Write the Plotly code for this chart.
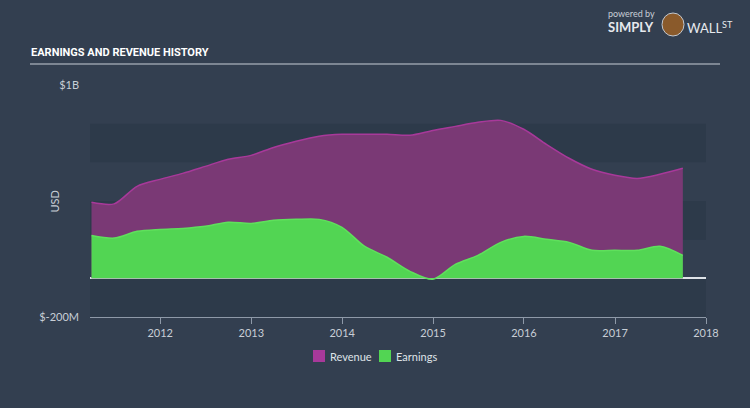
import plotly.graph_objects as go

dates = ["2011-03-31", "2011-06-30", "2011-09-30", "2011-12-31",
         "2012-03-31", "2012-06-30", "2012-09-30", "2012-12-31",
         "2013-03-31", "2013-06-30", "2013-09-30", "2013-12-31",
         "2014-03-31", "2014-06-30", "2014-09-30", "2014-12-31",
         "2015-03-31", "2015-06-30", "2015-09-30", "2015-12-31",
         "2016-03-31", "2016-06-30", "2016-09-30", "2016-12-31",
         "2017-03-31", "2017-06-30", "2017-09-30"]
revenue = [393, 385, 476, 512, 543, 579, 616, 636, 677, 709, 735, 745,
           745, 745, 740, 765, 786, 807, 817, 771, 693, 621, 564, 533,
           517, 538, 569]  # $M
earnings = [222, 208, 243, 253, 258, 269, 290, 284, 300, 305, 305, 264,
            166, 109, 36, -5, 72, 119, 186, 217, 202, 186, 145, 145,
            145, 166, 119]  # $M
series_names = ["Revenue", "Earnings"]

rev = [v * 1e6 for v in revenue]
earn = [v * 1e6 for v in earnings]

BG = "#333f50"
BAND = "#2d3a4a"
REV_LINE = "#a8399a"
REV_FILL = "#7a3975"
EARN_LINE = "#5fe05c"
EARN_FILL = "#52d553"

fig = go.Figure()
fig.add_trace(go.Scatter(x=dates, y=rev, name=series_names[0], mode="lines", showlegend=False,
                         line=dict(color=REV_LINE, width=1.5, shape="spline", smoothing=0.8),
                         fill="tozeroy", fillcolor=REV_FILL))
fig.add_trace(go.Scatter(x=dates, y=earn, name=series_names[1], mode="lines", showlegend=False,
                         line=dict(color=EARN_LINE, width=1.5, shape="spline", smoothing=0.8),
                         fill="tozeroy", fillcolor=EARN_FILL))


def px(x):
    return (x - 90) / 616


def py(y):
    return (317 - y) / 232


shapes = []
for lo, hi in [(600e6, 800e6), (200e6, 400e6), (-200e6, 0)]:
    shapes.append(dict(type="rect", xref="paper", yref="y", x0=0, x1=1, y0=lo, y1=hi,
                       fillcolor=BAND, line=dict(width=0), layer="below"))
# title underline
shapes.append(dict(type="line", xref="paper", yref="paper", x0=px(30), x1=px(720),
                   y0=py(64), y1=py(64), line=dict(color="#c8ced6", width=1.2)))
# logo emblem
shapes.append(dict(type="circle", xref="paper", yref="paper",
                   x0=px(662), x1=px(684), y0=py(36), y1=py(13),
                   fillcolor="#8a5a2b", line=dict(color="#c0c7d0", width=1)))
# legend swatches
for sx, col in [(313, "#a8399a"), (379, "#52d553")]:
    shapes.append(dict(type="rect", xref="paper", yref="paper",
                       x0=px(sx), x1=px(sx + 12), y0=py(362), y1=py(350),
                       fillcolor=col, line=dict(width=0)))

annotations = [
    dict(text="<b>EARNINGS AND REVENUE HISTORY</b>", x=px(29), y=py(53), xref="paper", yref="paper",
         xanchor="left", yanchor="middle", showarrow=False,
         font=dict(family="Roboto", size=11, color="#ffffff")),
    dict(text="USD", x=px(45), y=py(202), xref="paper", yref="paper", textangle=-90,
         showarrow=False, font=dict(family="Lato", size=11, color="#c8ced6")),
    dict(text="powered by", x=px(606), y=py(14), xref="paper", yref="paper", xanchor="left",
         yanchor="middle", showarrow=False, font=dict(family="Lato", size=9, color="#c8ced6")),
    dict(text="<b>SIMPLY</b>", x=px(606), y=py(27), xref="paper", yref="paper", xanchor="left",
         yanchor="middle", showarrow=False, font=dict(family="Lato", size=13, color="#e6e9ee")),
    dict(text="WALL<sup>ST</sup>", x=px(685), y=py(27), xref="paper", yref="paper", xanchor="left",
         yanchor="middle", showarrow=False, font=dict(family="Lato", size=13, color="#e6e9ee")),
    dict(text=series_names[0], x=px(328), y=py(356), xref="paper", yref="paper", xanchor="left",
         yanchor="middle", showarrow=False, font=dict(family="Lato", size=11, color="#dfe3e8")),
    dict(text=series_names[1], x=px(394), y=py(356), xref="paper", yref="paper", xanchor="left",
         yanchor="middle", showarrow=False, font=dict(family="Lato", size=11, color="#dfe3e8")),
]

fig.update_layout(
    width=750, height=408,
    margin=dict(l=90, r=44, t=85, b=91),
    paper_bgcolor=BG, plot_bgcolor=BG,
    font=dict(family="Lato", color="#c8ced6", size=11),
    shapes=shapes, annotations=annotations,
    showlegend=False,
    xaxis=dict(type="date", range=["2011-03-25", "2018-01-01"], showgrid=False,
               showline=True, linecolor="#8e99a8", linewidth=1,
               ticks="outside", ticklen=6, tickcolor="#8e99a8",
               tickvals=["2012-01-01", "2013-01-01", "2014-01-01", "2015-01-01",
                         "2016-01-01", "2017-01-01", "2018-01-01"],
               ticktext=["2012", "2013", "2014", "2015", "2016", "2017", "2018"],
               tickfont=dict(size=11, color="#c8ced6"), zeroline=False),
    yaxis=dict(range=[-200e6, 1e9], showgrid=False, zeroline=True, zerolinecolor="#dfe3e8",
               zerolinewidth=1.5, tickvals=[-200e6, 1e9], ticktext=["$-200M", "$1B"],
               tickfont=dict(size=11, color="#c8ced6"), ticks="", ticklabelstandoff=10),
)

fig.write_html("out.html")
